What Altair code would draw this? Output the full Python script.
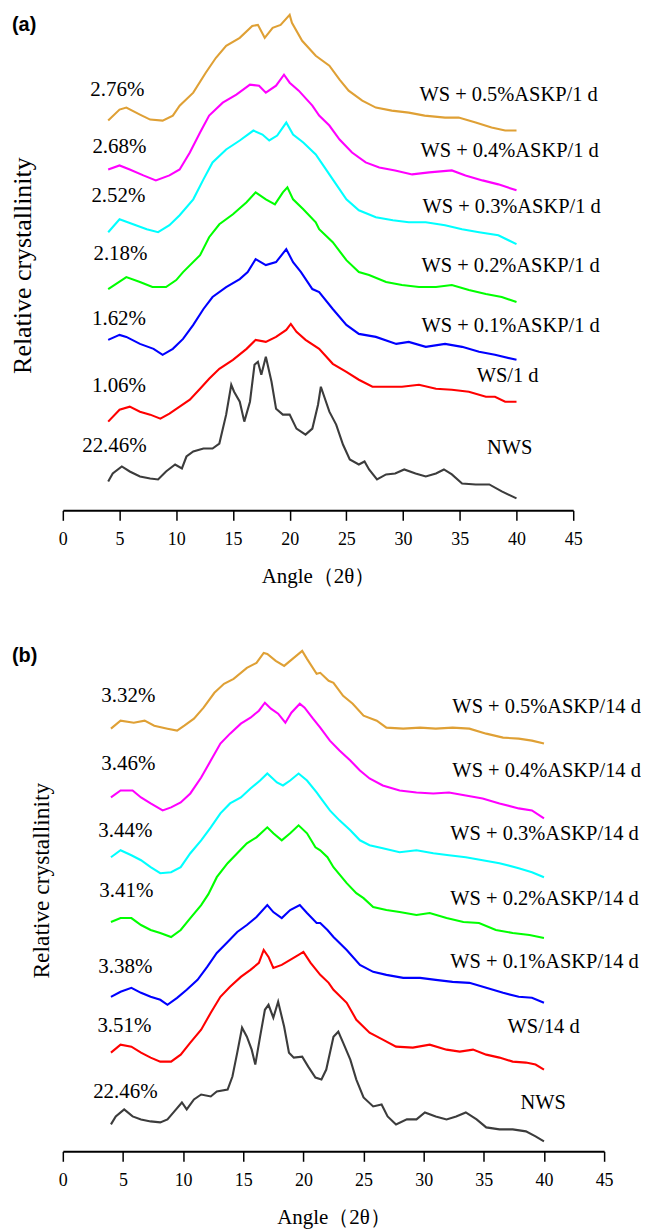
import altair as alt
import pandas as pd

# ---------------- data (2θ, relative intensity, arbitrary units) ----------------
# Panel (a): 1 d
A_05 = [(4,391),(5,402),(5.6,404),(6.8,397),(7.7,392),(8.8,391),(9.7,396),(10.3,406),(11.5,419),(12.6,439),
        (13.5,454),(14.4,466),(15.6,474),(16.7,486),(17.2,487),(17.8,474),(18.5,484),(19.2,487),(20.0,497),
        (20.2,489),(21.1,471),(22.3,456),(23.5,446),(24.4,432),(25.2,421),(26.4,411),(27.6,404),(29.0,401),
        (30.5,399),(31.9,396),(33.7,394),(34.9,394),(36.4,389),(37.8,384),(39.0,381),(40,381)]
A_04 = [(4,342),(5,346),(5.9,342),(7.1,336),(8.2,331),(9.4,336),(10.3,342),(11.2,359),(12.1,379),(12.9,396),
        (14.1,409),(15.3,417),(16.5,427),(17.3,426),(17.9,419),(18.8,426),(19.5,437),(20.0,429),(20.8,421),
        (22.0,406),(22.6,396),(23.5,386),(24.4,372),(25.5,359),(26.7,349),(27.9,344),(29.3,341),(30.8,337),
        (32.3,339),(34.3,341),(35.5,336),(37.0,331),(38.4,327),(40,321)]
A_03 = [(4,279),(5,292),(6.2,287),(7.4,282),(8.4,279),(9.4,286),(10.3,296),(11.5,312),(12.4,332),(13.2,349),
        (14.4,362),(15.6,371),(16.8,381),(17.6,377),(18.2,371),(18.9,376),(19.7,389),(20.3,377),(21.2,369),
        (22.3,357),(22.9,347),(23.8,332),(25,312),(26.1,301),(27.6,294),(29.1,291),(30.5,289),(32,289),
        (33.7,286),(35.2,282),(36.7,279),(38.4,276),(40,267)]
A_02 = [(4,222),(5.6,234),(6.8,229),(7.9,224),(9.1,224),(10,231),(10.6,239),(12.1,256),(12.9,274),(13.8,287),
        (15,297),(16.2,309),(17,319),(17.9,312),(18.7,307),(19.4,319),(19.8,324),(20.3,312),(21.2,302),
        (22.3,289),(22.6,282),(23.8,269),(25,251),(26.1,239),(27.0,236),(28.5,229),(29.9,226),(31.4,224),
        (32.9,224),(34.3,226),(35.8,221),(37.3,217),(38.7,214),(40,209)]
A_01 = [(4,171),(5,176),(5.6,174),(6.8,167),(8,162),(8.8,156),(9.7,162),(10.6,172),(11.5,186),(12.4,202),
        (13.2,214),(14.4,224),(15.6,232),(16.3,239),(17,252),(17.9,246),(18.8,249),(19.7,262),(20.3,249),
        (21,239),(22,222),(22.6,219),(23.8,202),(25,186),(26.1,177),(27.6,174),(29.4,167),(30.5,169),
        (32,164),(33.7,167),(35.2,164),(36.7,159),(38.1,156),(40,151)]
A_WS = [(4,89),(5,101),(5.9,104),(6.8,99),(7.7,96),(8.6,92),(9.4,97),(10.3,104),(11.2,111),(12.1,122),
        (12.9,132),(13.8,142),(15,151),(16.2,162),(17,171),(17.9,169),(18.8,174),(19.7,181),(20.1,187),
        (20.6,179),(21.4,171),(22.6,162),(23.8,147),(25,139),(26.1,131),(27.3,124),(28.5,124),(29.9,124),
        (31.4,126),(32.9,122),(34.3,121),(35.8,119),(37.3,114),(38.1,114),(39,109),(40,109)]
A_NWS = [(4,29),(4.4,37),(5.2,44),(5.9,39),(6.8,34),(7.7,32),(8.4,31),(9.1,39),(9.9,46),(10.5,42),(10.9,54),
         (11.5,59),(12.4,62),(13.2,62),(13.8,67),(14.4,96),(14.85,126),(15.1,119),(15.6,109),(16.0,89),
         (16.5,109),(16.9,146),(17.2,149),(17.5,136),(17.9,154),(18.4,129),(18.8,102),(19.4,96),(20.0,96),
         (20.6,82),(21.4,76),(22.0,82),(22.5,106),(22.75,124),(22.9,119),(23.5,99),(24.1,86),(24.7,66),
         (25.3,51),(26.1,46),(26.6,49),(27,41),(27.7,31),(28.5,36),(29.3,37),(30.1,41),(31.1,37),(32,34),
         (32.9,37),(33.6,41),(34.3,36),(35.2,27),(36.4,26),(37.6,26),(38.7,19),(40,12)]

# Panel (b): 14 d
B_05 = [(4,424),(4.8,432),(5.9,430),(6.8,432),(7.6,427),(8.7,424),(9.5,422),(10.1,427),(10.9,434),(11.7,445),
        (12.6,460),(13.4,469),(14.2,474),(15.3,485),(16.1,490),(16.7,500),(17,499),(17.7,492),(18.4,487),
        (19.2,495),(19.9,502),(20.3,494),(21.1,479),(21.4,480),(22.1,472),(22.5,470),(23.3,457),(24.1,449),
        (25,437),(26.1,432),(26.9,425),(28.3,424),(29.7,425),(31,424),(32.4,425),(33.8,424),(35.2,419),
        (36.6,415),(37.9,414),(39,412),(40,409)]
B_04 = [(4,355),(4.8,362),(5.8,362),(6.5,355),(7.3,349),(8.3,342),(9,345),(9.8,350),(10.6,359),(11.5,375),
        (12.3,392),(13.1,409),(13.9,419),(14.8,429),(15.6,435),(16.3,442),(16.8,450),(17.3,444),(17.9,439),
        (18.5,430),(19,440),(19.7,449),(20.1,445),(20.8,434),(21.4,425),(22.2,412),(23,402),(23.9,392),
        (24.7,382),(25.5,374),(26.6,367),(28,362),(29.4,360),(30.8,359),(32.1,360),(33.5,357),(34.9,354),
        (36.3,349),(37.9,344),(39,342),(40,334)]
B_03 = [(4,295),(4.8,302),(5.7,297),(6.5,292),(7.3,285),(8.1,279),(9,280),(9.8,285),(10.6,299),(11.5,312),
        (12.3,325),(13.1,339),(13.9,349),(14.8,355),(15.6,364),(16.4,372),(17,379),(17.8,370),(18.3,367),
        (18.9,372),(19.6,379),(20.3,372),(21.1,360),(21.4,355),(22.2,342),(23,332),(23.9,322),(24.7,312),
        (25.5,307),(26.6,304),(28,300),(29.4,302),(30.8,299),(32.1,297),(33.5,295),(34.9,292),(36.3,289),
        (37.9,284),(39,280),(40,275)]
B_02 = [(4,230),(4.8,234),(5.7,234),(6.5,227),(7.3,222),(8.1,219),(9,215),(9.8,222),(10.6,234),(11.5,247),
        (12.1,258),(12.8,275),(13.7,289),(14.5,299),(15.3,309),(16.1,315),(17,325),(17.5,319),(18.2,312),
        (18.9,319),(19.6,327),(20.3,319),(21,305),(21.4,302),(22,295),(22.5,285),(23.6,269),(24.4,259),
        (25,254),(25.8,245),(26.9,242),(28,240),(29.4,237),(30.5,239),(31.9,234),(33.3,230),(34.6,229),
        (36,222),(37.4,219),(38.8,217),(40,214)]
B_01 = [(4,155),(4.8,160),(5.7,164),(6.5,159),(7.3,155),(8.1,152),(8.7,147),(9.5,154),(10.3,162),(11.2,172),
        (12,185),(12.8,199),(13.7,210),(14.5,220),(15.3,227),(16.1,235),(17,247),(17.5,240),(18.2,234),
        (18.9,242),(19.7,247),(20.3,239),(21.1,229),(21.4,229),(22,222),(22.5,215),(23.6,202),(24.7,187),
        (25.8,180),(26.9,177),(28.3,174),(29.7,174),(31,172),(32.4,170),(33.8,169),(35.2,164),(36.6,159),
        (37.9,155),(39,154),(40,149)]
B_WS = [(4,99),(4.8,107),(5.7,105),(6.5,99),(7.3,94),(8.1,90),(9,90),(9.8,97),(10.6,109),(11.5,122),
        (12.3,139),(13.1,155),(13.9,165),(14.8,175),(15.6,182),(16.3,189),(16.7,202),(17.1,195),(17.5,184),
        (18.2,187),(18.9,192),(19.6,197),(20,200),(20.6,189),(21.4,177),(22.1,169),(22.5,162),(23.6,149),
        (24.4,132),(25.5,119),(26.6,112),(27.7,105),(29.1,104),(30.5,107),(31.9,102),(33,100),(34.1,102),
        (35.2,97),(36.3,94),(37.4,90),(38.5,89),(39.3,87),(40,82)]
B_NWS = [(4,27),(4.4,35),(5.1,42),(5.8,35),(6.5,32),(7.3,30),(8.1,29),(8.7,32),(9.2,39),(9.9,49),(10.3,42),
         (10.9,52),(11.5,57),(12.3,55),(12.8,60),(13.7,62),(14.1,75),(14.5,99),(14.9,124),(15.3,115),
         (15.7,102),(16,87),(16.4,115),(16.8,142),(17.1,147),(17.5,134),(17.9,150),(18.4,125),(18.8,99),
         (19.2,94),(19.9,95),(20.4,85),(21,74),(21.5,72),(21.9,82),(22.5,115),(22.9,120),(23.3,109),
         (23.9,92),(24.4,72),(25,54),(25.8,45),(26.5,47),(27,35),(27.7,27),(28.6,32),(29.4,32),(30.1,39),
         (31,35),(31.9,32),(32.7,35),(33.5,39),(34.4,32),(35.2,24),(36.3,22),(37.4,22),(38.5,20),(39.3,15),
         (40,10)]

SERIES = ["s05", "s04", "s03", "s02", "s01", "ws", "nws"]
COLORS = ["#DFA035", "#FF00FF", "#00FFFF", "#00FF00", "#0000FF", "#FF0000", "#3C3C3C"]

# labels
PCT_A = ["2.76%", "2.68%", "2.52%", "2.18%", "1.62%", "1.06%", "22.46%"]
PCT_A_X = [4.81, 4.99, 4.9, 5.08, 4.95, 4.95, 4.55]
PCT_A_Y = [422, 364, 315, 257, 192, 125, 65]
NAME_A = ["WS + 0.5%ASKP/1 d", "WS + 0.4%ASKP/1 d", "WS + 0.3%ASKP/1 d", "WS + 0.2%ASKP/1 d",
          "WS + 0.1%ASKP/1 d", "WS/1 d", "NWS"]
NAME_A_X = [39.3, 39.39, 39.57, 39.48, 39.48, 39.22, 39.39]
NAME_A_Y = [417, 360, 304.5, 245, 185, 135, 63]

PCT_B = ["3.32%", "3.46%", "3.44%", "3.41%", "3.38%", "3.51%", "22.46%"]
PCT_B_X = [5.45, 5.45, 5.2, 5.28, 5.2, 5.12, 5.2]
PCT_B_Y = [457, 389, 321, 261, 184.5, 126, 59.5]
NAME_B = ["WS + 0.5%ASKP/14 d", "WS + 0.4%ASKP/14 d", "WS + 0.3%ASKP/14 d", "WS + 0.2%ASKP/14 d",
          "WS + 0.1%ASKP/14 d", "WS/14 d", "NWS"]
NAME_B_X = [40.22, 40.22, 40.05, 40.05, 40.05, 39.97, 39.93]
NAME_B_Y = [446, 381, 318, 253, 189.5, 124.5, 48]

TICK_VALUES = [i * 2.5 for i in range(19)]
SERIF = "Liberation Serif"


def long_df(curves):
    rows = []
    for name, pts in zip(SERIES, curves):
        for x, y in pts:
            rows.append({"x": x, "y": y, "s": name})
    return pd.DataFrame(rows)


def panel(curves, pct, pct_x, pct_y, names, names_x, names_y, tag, tag_pos,
          width, height, ytitle_size, ytitle_x, ytitle_y, xtitle_pad):
    xscale = alt.Scale(domain=[0, 45], nice=False, zero=False)
    yscale = alt.Scale(domain=[0, height], nice=False, zero=False)
    xaxis = alt.Axis(
        values=TICK_VALUES,
        labelExpr="datum.value % 5 == 0 ? '' + datum.value : ''",
        tickSize={"condition": {"test": "datum.value % 5 != 0", "value": 5}, "value": 10},
        tickWidth=1.5, tickColor="black", domainColor="black", domainWidth=2,
        labelFont=SERIF, labelFontSize=18, labelColor="black", labelPadding=10,
        labelFlush=False, grid=False,
        title="Angle（2θ）", titleFont=SERIF, titleFontSize=21, titleFontWeight="normal",
        titleColor="black", titlePadding=xtitle_pad,
    )
    yaxis = alt.Axis(
        domain=False, ticks=False, labels=False, grid=False,
        title="Relative crystallinity", titleFont=SERIF, titleFontSize=ytitle_size,
        titleFontWeight="normal", titleColor="black",
        titleX=ytitle_x, titleY=ytitle_y, titleAlign="center", titleBaseline="middle", titleAngle=270,
    )
    lines = alt.Chart(long_df(curves)).mark_line(strokeWidth=2.1).encode(
        x=alt.X("x:Q", scale=xscale, axis=xaxis),
        y=alt.Y("y:Q", scale=yscale, axis=yaxis),
        color=alt.Color("s:N", scale=alt.Scale(domain=SERIES, range=COLORS), legend=None),
        detail="s:N",
    )
    pct_df = pd.DataFrame({"x": pct_x, "y": pct_y, "t": pct})
    pct_text = alt.Chart(pct_df).mark_text(
        font=SERIF, fontSize=21, color="black", align="center", baseline="middle"
    ).encode(x=alt.X("x:Q", scale=xscale), y=alt.Y("y:Q", scale=yscale), text="t:N")
    name_df = pd.DataFrame({"x": names_x, "y": names_y, "t": names})
    name_text = alt.Chart(name_df).mark_text(
        font=SERIF, fontSize=20.5, color="black", align="center", baseline="middle"
    ).encode(x=alt.X("x:Q", scale=xscale), y=alt.Y("y:Q", scale=yscale), text="t:N")
    tag_text = alt.Chart(pd.DataFrame({"t": [tag]})).mark_text(
        font="Liberation Sans", fontSize=20, fontWeight="bold", color="black",
        align="left", baseline="middle"
    ).encode(x=alt.value(tag_pos[0]), y=alt.value(tag_pos[1]), text="t:N")
    return alt.layer(lines, pct_text, name_text, tag_text).properties(width=width, height=height)


pa = panel([A_05, A_04, A_03, A_02, A_01, A_WS, A_NWS], PCT_A, PCT_A_X, PCT_A_Y,
           NAME_A, NAME_A_X, NAME_A_Y, "(a)", (-51, 14), 512, 501, 26, -40.7, 255, 17)
pb = panel([B_05, B_04, B_03, B_02, B_01, B_WS, B_NWS], PCT_B, PCT_B_X, PCT_B_Y,
           NAME_B, NAME_B_X, NAME_B_Y, "(b)", (-51, 33), 543, 530, 23.5, -21, 258, 17)

chart = alt.vconcat(pa, pb, spacing=37).properties(
    padding={"left": 1, "top": 0, "right": 0, "bottom": 0}, background="white"
).configure_view(stroke=None)

chart.save("out.html", embed_options={"renderer": "svg", "actions": False})
